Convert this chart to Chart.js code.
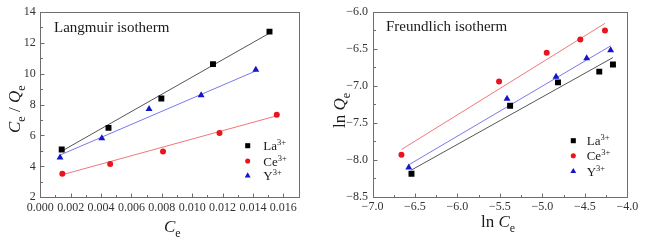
<!DOCTYPE html>
<html>
<head>
<meta charset="utf-8">
<script src="https://cdn.jsdelivr.net/npm/chart.js@4.4.1/dist/chart.umd.min.js"></script>
<style>
    html, body { margin: 0; padding: 0; background: #fff; }
    #wrap { position: relative; width: 650px; height: 241px; }
    canvas { position: absolute; top: 0; }
    #langmuir { left: 0; }
    #freundlich { left: 325px; }
</style>
</head>
<body>
<div id="wrap">
    <canvas id="langmuir" width="325" height="241"></canvas>
    <canvas id="freundlich" width="325" height="241"></canvas>
</div>
<script>
// Langmuir isotherm: Ce (x) vs Ce/Qe (y)
var langLaX = [0.00141, 0.00449, 0.00797, 0.01137, 0.01509];
var langLaY = [5.09, 6.49, 8.39, 10.61, 12.71];
var langCeX = [0.00145, 0.0046, 0.00808, 0.0118, 0.01557];
var langCeY = [3.52, 4.16, 4.96, 6.15, 7.33];
var langYX = [0.0013, 0.00405, 0.00716, 0.01059, 0.01419];
var langYY = [4.58, 5.81, 7.71, 8.60, 10.25];
// fitted lines, end points
var langLaFitX = [0.0014, 0.0151];
var langLaFitY = [4.98, 12.62];
var langCeFitX = [0.00145, 0.01557];
var langCeFitY = [3.46, 7.27];
var langYFitX = [0.0013, 0.01419];
var langYFitY = [4.73, 10.17];

// Freundlich isotherm: ln Ce (x) vs ln Qe (y)
var freLaX = [-6.541, -5.38, -4.816, -4.33, -4.169];
var freLaY = [-8.19, -7.27, -6.955, -6.81, -6.713];
var freCeX = [-6.659, -5.51, -4.949, -4.553, -4.263];
var freCeY = [-7.932, -6.942, -6.555, -6.374, -6.255];
var freYX = [-6.573, -5.416, -4.839, -4.478, -4.196];
var freYY = [-8.104, -7.175, -6.88, -6.63, -6.52];
var freLaFitX = [-6.541, -4.169];
var freLaFitY = [-8.139, -6.62];
var freCeFitX = [-6.659, -4.263];
var freCeFitY = [-7.862, -6.158];
var freYFitX = [-6.573, -4.196];
var freYFitY = [-8.069, -6.462];

var ions = ['La', 'Ce', 'Y'];
var ionCharge = '3+';

var SERIF = '"Liberation Serif", "Times New Roman", serif';
var COLORS = { La: '#000000', Ce: '#e8151f', Y: '#1414c8' };
var FIT_COLORS = { La: '#555555', Ce: '#f07878', Y: '#7878ee' };
var STYLES = { La: { s: 'rect', r: 4.2 }, Ce: { s: 'circle', r: 3 }, Y: { s: 'triangle', r: 4 } };

function pts(xs, ys) {
    return xs.map(function (x, i) { return { x: x, y: ys[i] }; });
}

function markerSet(ion, xs, ys) {
    return {
        label: ion, data: pts(xs, ys), showLine: false, order: 1,
        pointStyle: STYLES[ion].s, pointRadius: STYLES[ion].r, pointHoverRadius: STYLES[ion].r,
        pointBorderWidth: 0, backgroundColor: COLORS[ion], borderColor: COLORS[ion]
    };
}

function fitSet(ion, xs, ys) {
    return {
        label: ion + ' fit', data: pts(xs, ys), showLine: true, order: 2,
        pointRadius: 0, borderColor: FIT_COLORS[ion], borderWidth: 1, fill: false
    };
}

function fmt(v, dec) {
    return v.toFixed(dec).replace('-', '\u2212');
}

// draws a run of text pieces with different fonts / baseline shifts
function drawRich(ctx, parts, x, y) {
    var cx = x;
    parts.forEach(function (p) {
        ctx.font = p.f;
        ctx.fillText(p.t, cx, y + (p.dy || 0));
        cx += ctx.measureText(p.t).width;
    });
}

var MAIN = '17px ' + SERIF, ITAL = 'italic 17px ' + SERIF, SUB = '12px ' + SERIF;

// frame, inward ticks, inset title, legend and axis titles
var decor = {
    id: 'decor',
    afterDraw: function (chart, args, o) {
        var ctx = chart.ctx, a = chart.chartArea;
        var L = Math.round(a.left) + 0.5, R = Math.round(a.right) + 0.5;
        var T = Math.round(a.top) + 0.5, B = Math.round(a.bottom) + 0.5;
        ctx.save();
        ctx.strokeStyle = '#6e6e6e';
        ctx.lineWidth = 1;
        ctx.strokeRect(L, T, R - L, B - T);

        ctx.beginPath();
        chart.scales.x.ticks.forEach(function (t) {
            var px = Math.round(chart.scales.x.getPixelForValue(t.value)) + 0.5;
            var len = t.label !== '' ? 4 : 2.5;
            ctx.moveTo(px, B); ctx.lineTo(px, B - len);
        });
        chart.scales.y.ticks.forEach(function (t) {
            var py = Math.round(chart.scales.y.getPixelForValue(t.value)) + 0.5;
            var len = t.label !== '' ? 4 : 2.5;
            ctx.moveTo(L, py); ctx.lineTo(L + len, py);
        });
        ctx.stroke();

        ctx.fillStyle = '#1a1a1a';
        ctx.textBaseline = 'alphabetic';
        ctx.textAlign = 'left';
        ctx.font = '15px ' + SERIF;
        ctx.fillText(o.title.text, o.title.x, o.title.y);

        // legend
        ions.forEach(function (ion, i) {
            var y = o.legend.y[i];
            ctx.fillStyle = COLORS[ion];
            Chart.helpers.drawPoint(ctx, { pointStyle: STYLES[ion].s, radius: STYLES[ion].r * 0.85, rotation: 0, borderWidth: 0 }, o.legend.x, y);
            ctx.fillStyle = '#1a1a1a';
            drawRich(ctx, [
                { t: ion, f: '13px ' + SERIF },
                { t: ionCharge, f: '8.5px ' + SERIF, dy: -5 }
            ], o.legend.tx, y + 4.5);
        });

        // axis titles
        drawRich(ctx, o.xTitle.parts, o.xTitle.x, o.xTitle.y);
        ctx.translate(o.yTitle.x, o.yTitle.y);
        ctx.rotate(-Math.PI / 2);
        drawRich(ctx, o.yTitle.parts, 0, 0);
        ctx.restore();
    }
};

function makeChart(id, sets, ax, geo, decorOpts) {
    function axis(cfg, isX) {
        return {
            type: 'linear', min: cfg.min, max: cfg.max,
            grid: { display: false, drawTicks: false }, border: { display: false },
            ticks: {
                stepSize: cfg.step, autoSkip: false, maxRotation: 0, minRotation: 0,
                padding: isX ? 3 : 4.5, color: '#333333', font: { family: SERIF, size: 12 },
                callback: function (v, i) { return i % 2 === 0 ? fmt(v, cfg.dec) : ''; }
            },
            afterFit: function (s) {
                if (isX) s.height = geo.xH; else s.width = geo.yW;
            }
        };
    }
    return new Chart(document.getElementById(id), {
        type: 'scatter',
        data: { datasets: sets },
        options: {
            responsive: false, animation: false, devicePixelRatio: 1,
            layout: { padding: { top: geo.top, right: geo.right, left: 0, bottom: 0 } },
            scales: { x: axis(ax.x, true), y: axis(ax.y, false) },
            plugins: { legend: { display: false }, tooltip: { enabled: false }, decor: decorOpts }
        },
        plugins: [decor]
    });
}

makeChart('langmuir', [
    fitSet('La', langLaFitX, langLaFitY),
    fitSet('Ce', langCeFitX, langCeFitY),
    fitSet('Y', langYFitX, langYFitY),
    markerSet('La', langLaX, langLaY),
    markerSet('Ce', langCeX, langCeY),
    markerSet('Y', langYX, langYY)
], {
    x: { min: 0, max: 0.017, step: 0.001, dec: 3 },
    y: { min: 2, max: 14, step: 1, dec: 0 }
}, { top: 9.3, right: 26.5, yW: 40.3, xH: 43.7 }, {
    title: { text: 'Langmuir isotherm', x: 54, y: 31.7 },
    legend: { x: 247.7, tx: 263.3, y: [145.7, 161, 175.7] },
    xTitle: { x: 164, y: 231.7, parts: [{ t: 'C', f: ITAL }, { t: 'e', f: SUB, dy: 5 }] },
    yTitle: { x: 20, y: 133, parts: [
        { t: 'C', f: ITAL }, { t: 'e', f: SUB, dy: 5 }, { t: ' / ', f: MAIN },
        { t: 'Q', f: ITAL }, { t: 'e', f: SUB, dy: 5 }
    ] }
});

makeChart('freundlich', [
    fitSet('La', freLaFitX, freLaFitY),
    fitSet('Ce', freCeFitX, freCeFitY),
    fitSet('Y', freYFitX, freYFitY),
    markerSet('La', freLaX, freLaY),
    markerSet('Ce', freCeX, freCeY),
    markerSet('Y', freYX, freYY)
], {
    x: { min: -7, max: -4, step: 0.25, dec: 1 },
    y: { min: -8.5, max: -6, step: 0.25, dec: 1 }
}, { top: 7.3, right: 22.7, yW: 47.5, xH: 44.3 }, {
    title: { text: 'Freundlich isotherm', x: 61, y: 31 },
    legend: { x: 248.3, tx: 261.7, y: [140.7, 155.7, 171.3] },
    xTitle: { x: 156, y: 226.7, parts: [{ t: 'ln ', f: MAIN }, { t: 'C', f: ITAL }, { t: 'e', f: SUB, dy: 5 }] },
    yTitle: { x: 20, y: 128, parts: [{ t: 'ln ', f: MAIN }, { t: 'Q', f: ITAL }, { t: 'e', f: SUB, dy: 5 }] }
});
</script>
</body>
</html>
